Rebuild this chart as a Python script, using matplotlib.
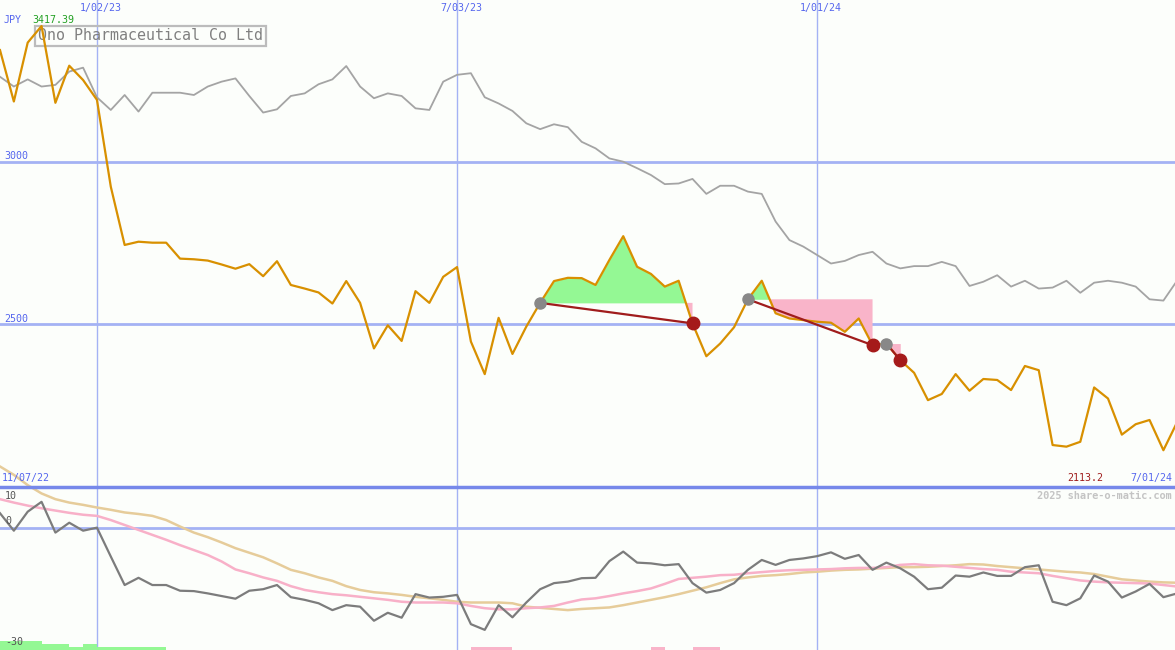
import numpy as np
import pandas as pd
import matplotlib
matplotlib.use('Agg')
import matplotlib.pyplot as plt

# weekly closes, Ono Pharmaceutical (JPY)
weeks = pd.date_range('2022-11-14', periods=86, freq='7D')
price = [3343, 3185, 3366, 3417, 3181, 3295, 3251, 3190, 2923, 2744,
         2754, 2751, 2751, 2702, 2700, 2696, 2684, 2671, 2685, 2648,
         2694, 2621, 2610, 2598, 2564, 2633, 2566, 2426, 2497, 2449,
         2602, 2566, 2646, 2676, 2447, 2347, 2520, 2409, 2493, 2566,
         2633, 2643, 2642, 2621, 2698, 2771, 2677, 2655, 2616, 2634,
         2503, 2402, 2441, 2491, 2577, 2634, 2534, 2518, 2513, 2508,
         2505, 2477, 2518, 2436, 2441, 2390, 2351, 2267, 2286, 2347,
         2296, 2332, 2329, 2298, 2372, 2359, 2129, 2124, 2139, 2306,
         2272, 2161, 2193, 2206, 2113, 2200]
# relative index line (grey)
relative = [3261, 3231, 3253, 3231, 3236, 3277, 3289, 3198, 3159, 3205,
            3154, 3212, 3212, 3212, 3205, 3231, 3246, 3256, 3202, 3151,
            3161, 3202, 3210, 3238, 3253, 3294, 3231, 3195, 3210, 3202,
            3164, 3159, 3246, 3267, 3272, 3198, 3179, 3156, 3118, 3100,
            3115, 3106, 3061, 3041, 3010, 3000, 2980, 2959, 2931, 2933,
            2947, 2901, 2926, 2926, 2908, 2901, 2816, 2759, 2739, 2713,
            2687, 2695, 2713, 2723, 2687, 2672, 2679, 2679, 2692, 2679,
            2618, 2631, 2651, 2616, 2634, 2610, 2613, 2634, 2597, 2628,
            2634, 2628, 2616, 2577, 2573, 2635]
high_label = '3417.39'
low_label = '2113.2'

# lower panel: momentum and two averages
momentum = [3.8, -0.8, 4.2, 6.8, -1.3, 1.3, -0.8, 0.0, -7.6, -15.1,
            -13.2, -15.1, -15.1, -16.6, -16.7, -17.3, -18.0, -18.7, -16.6, -16.2,
            -15.1, -18.3, -19.0, -19.9, -21.7, -20.4, -20.8, -24.5, -22.4, -23.7,
            -17.5, -18.4, -18.2, -17.7, -25.4, -26.9, -20.4, -23.6, -19.7, -16.2,
            -14.6, -14.2, -13.3, -13.2, -8.8, -6.3, -9.2, -9.4, -9.9, -9.6,
            -14.6, -17.1, -16.4, -14.6, -11.1, -8.5, -9.8, -8.5, -8.1, -7.5,
            -6.5, -8.2, -7.2, -11.1, -9.2, -10.7, -12.9, -16.2, -15.8, -12.6,
            -12.9, -11.8, -12.7, -12.7, -10.4, -9.9, -19.5, -20.4, -18.6, -12.6,
            -14.2, -18.4, -16.8, -14.8, -18.3, -17.3]
avg_fast = [7.5, 6.6, 5.8, 5.1, 4.5, 3.9, 3.4, 3.1, 2.0, 0.7,
            -0.6, -1.9, -3.2, -4.6, -5.9, -7.2, -8.9, -11.0, -12.0, -13.1,
            -14.0, -15.4, -16.4, -17.0, -17.5, -17.8, -18.2, -18.6, -19.0, -19.5,
            -19.7, -19.7, -19.7, -19.9, -20.6, -21.2, -21.5, -21.5, -21.2, -21.0,
            -20.6, -19.7, -18.9, -18.6, -18.0, -17.3, -16.7, -16.0, -14.8, -13.5,
            -13.2, -12.9, -12.5, -12.4, -12.0, -11.7, -11.4, -11.2, -11.1, -11.0,
            -10.9, -10.7, -10.6, -10.6, -10.4, -9.8, -9.6, -9.9, -10.0, -10.3,
            -10.6, -10.9, -11.1, -11.6, -11.8, -12.0, -12.7, -13.3, -13.9, -14.2,
            -14.4, -14.5, -14.6, -14.7, -15.1, -15.5]
avg_slow = [16.1, 13.9, 11.2, 9.0, 7.5, 6.6, 6.0, 5.3, 4.7, 4.0,
            3.6, 3.1, 2.0, 0.3, -1.3, -2.5, -3.9, -5.4, -6.6, -7.8,
            -9.4, -11.1, -12.0, -13.1, -14.0, -15.4, -16.4, -17.0, -17.3, -17.7,
            -18.2, -18.6, -19.0, -19.5, -19.7, -19.7, -19.7, -19.9, -20.8, -21.1,
            -21.4, -21.7, -21.4, -21.2, -21.0, -20.4, -19.7, -19.0, -18.3, -17.5,
            -16.6, -15.7, -14.6, -13.6, -13.1, -12.7, -12.5, -12.2, -11.8, -11.6,
            -11.3, -11.1, -11.0, -10.8, -10.6, -10.4, -10.4, -10.3, -10.1, -9.9,
            -9.6, -9.7, -10.1, -10.4, -10.7, -11.0, -11.3, -11.6, -11.8, -12.2,
            -12.9, -13.6, -13.9, -14.2, -14.4, -14.5]

# signal bars at the foot of the lower panel: (start week, weeks, level)
green_bars = [(0, 3, 3), (3, 2, 2), (5, 1, 1), (6, 1, 2), (7, 5, 1)]
pink_bars = [(34, 3, 1), (47, 1, 1), (50, 2, 1)]

# trades: buy week -> sell week
buys = [39, 54, 64]
sells = [50, 63, 65]

grid_dates = ['2023-01-02', '2023-07-03', '2024-01-01']
grid_labels = ['1/02/23', '7/03/23', '1/01/24']
price_grid = [3000, 2500]

bg = '#fcfefb'
blue = '#a4b2f4'
W, H = 1175, 650

fig = plt.figure(figsize=(W / 100, H / 100), dpi=100, facecolor=bg)
split = 487
ax = fig.add_axes([0, (H - split) / H, 1, split / H])
ax2 = fig.add_axes([0, 0, 1, (H - split) / H])
for a in (ax, ax2):
    a.set_facecolor(bg)
    a.set_axis_off()

x = weeks
step = pd.Timedelta(days=7)
x_end = weeks[0] + step * (W / 13.85)
ax.set_xlim(weeks[0], x_end)
ax2.set_xlim(weeks[0], x_end)
ax.set_ylim(2000, 3497)
ax2.set_ylim(-32.2, 10.7)

for d in grid_dates:
    ax.axvline(pd.Timestamp(d), color=blue, lw=1, zorder=1)
    ax2.axvline(pd.Timestamp(d), color=blue, lw=1, zorder=1)
for p in price_grid:
    ax.axhline(p, color=blue, lw=2, zorder=1)
ax2.axhline(0, color=blue, lw=2, zorder=1)
ax2.axhline(ax2.get_ylim()[1], color='#7688ea', lw=2.5, zorder=5, clip_on=False)

pr = np.array(price, dtype=float)
for b, s in zip(buys, sells):
    lvl = pr[b]
    seg = slice(b, s + 1)
    ax.fill_between(x[seg], pr[seg], lvl, where=pr[seg] >= lvl, interpolate=True,
                    color='#94f894', lw=0, zorder=2)
    ax.fill_between(x[seg], pr[seg], lvl, where=pr[seg] <= lvl, interpolate=True,
                    color='#f9b4c9', lw=0, zorder=2)

ax.plot(x, relative, color='#a4a4a4', lw=1.3, zorder=3)
ax.plot(x, price, color='#d89000', lw=1.6, zorder=4)

for b, s in zip(buys, sells):
    ax.plot([x[b], x[s]], [pr[b], pr[s]], color='#a01c1c', lw=1.6, zorder=5)
    ax.plot(x[b], pr[b], 'o', color='#888888', ms=8, zorder=6)
    ax.plot(x[s], pr[s], 'o', color='#a51a1a', ms=9, zorder=6)

ax2.plot(x, avg_slow, color='#e6cc9a', lw=1.8, zorder=3, clip_on=False)
ax2.plot(x, avg_fast, color='#f8b0c8', lw=1.8, zorder=3)
ax2.plot(x, momentum, color='#7c7c7c', lw=1.6, zorder=4)

bar_unit = 0.8
y0 = ax2.get_ylim()[0]
for start, n, lvl in green_bars:
    ax2.bar(x[start], bar_unit * lvl, width=step * n, bottom=y0, align='edge',
            color='#94f894', lw=0, zorder=2)
for start, n, lvl in pink_bars:
    ax2.bar(x[start], bar_unit * lvl, width=step * n, bottom=y0, align='edge',
            color='#f9b4c9', lw=0, zorder=2)

mono = 'DejaVu Sans Mono'
tblue = '#5566ee'


def fx(px):
    return px / W


def fy(py):
    return 1 - py / H


# title box sits under the lines
ax.text(fx(38), fy(36), 'Ono Pharmaceutical Co Ltd', transform=fig.transFigure,
        family=mono, fontsize=10.8, color='#808080', va='center', ha='left', zorder=2,
        bbox=dict(boxstyle='square,pad=0.18', fc='none', ec='#bcbcbc', lw=1.6))
fig.text(fx(4), fy(20), 'JPY', family=mono, fontsize=7.2, color=tblue, va='center')
fig.text(fx(32), fy(20), high_label, family=mono, fontsize=7.2, color='#22a022', va='center')
for d, lab in zip(grid_dates, grid_labels):
    ax.text(pd.Timestamp(d) + pd.Timedelta(days=2), 3497 - 25, lab, family=mono,
            fontsize=7.2, color=tblue, ha='center', va='center')
for p in price_grid:
    ax.text(weeks[0] + pd.Timedelta(days=2), p + 16, str(p), family=mono,
            fontsize=7.2, color=tblue, ha='left', va='center')

fig.text(fx(2), fy(478), '11/07/22', family=mono, fontsize=7.2, color=tblue, va='center')
fig.text(fx(1172), fy(478), '7/01/24', family=mono, fontsize=7.2, color=tblue,
         va='center', ha='right')
fig.text(fx(1103), fy(478), low_label, family=mono, fontsize=7.2,
         color='#a01c1c', va='center', ha='right')
fig.text(fx(1172), fy(496), '2025 share-o-matic.com', family=mono, fontsize=7.4,
         color='#c4c4c4', va='center', ha='right', fontweight='bold')
fig.text(fx(5), fy(496), '10', family=mono, fontsize=7.2, color='#555555', va='center')
fig.text(fx(5), fy(521), '0', family=mono, fontsize=7.2, color='#555555', va='center')
fig.text(fx(5), fy(642), '-30', family=mono, fontsize=7.2, color='#555555', va='center')

fig.savefig('out.png', dpi=100, facecolor=bg)
